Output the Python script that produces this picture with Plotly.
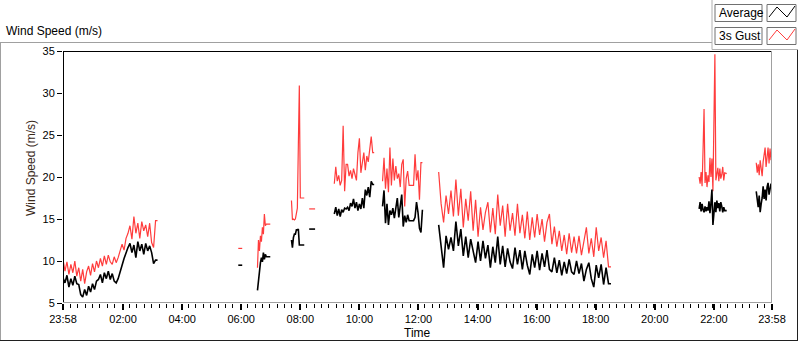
import plotly.graph_objects as go
import pandas as pd

# ---------------- data ----------------
seg1_start, seg1_step = "2015-01-01 23:58", 4
seg1_avg = [8.0, 7.4, 8.3, 6.9, 7.9, 7.1, 8.2, 7.3, 7.2,
            6.0, 5.7, 6.6, 5.9,
            7.0, 6.3, 7.3, 6.6, 7.6,
            7.8, 8.4, 7.4, 8.6, 7.9, 8.8, 7.8, 8.5,
            7.6, 7.4, 7.9, 8.6,
            9.5, 10.3, 11.0,
            11.6, 12.1, 11.0, 11.9, 10.4, 12.3, 11.2, 12.0, 10.8, 12.1, 11.2, 11.8,
            11.0, 9.7, 10.1,
            10.1]
seg1_gust = [10.2, 8.8, 9.9, 8.4, 9.6, 8.6, 10.0, 8.2, 9.2,
             7.6, 9.0, 7.3, 8.7,
             9.4, 8.3, 9.7, 8.7, 10.0,
             9.2, 10.3, 9.4, 10.6, 9.6, 10.7, 9.9, 9.6,
             10.5, 9.8, 10.4, 11.2,
             12.0, 11.3, 12.7,
             13.3, 14.2, 12.6, 15.3, 13.3, 14.5, 12.7, 14.7, 13.6, 14.3, 12.9, 14.5,
             12.2, 11.6, 14.8,
             14.8]

seg2_start, seg2_step = "2015-01-02 05:54", 8
seg2_avg = [9.5, 9.5]
seg2_gust = [11.5, 11.5]

seg3_start, seg3_step = "2015-01-02 06:33", 2
seg3_avg = [6.5, 7.8, 8.7, 9.8, 10.4, 9.9, 11.0, 10.2, 10.8, 10.5, 10.5, 10.5, 10.5, 10.5]
seg3_gust = [9.2, 12.5, 11.2, 13.0, 12.3, 14.0, 13.2, 15.6, 14.2, 14.4, 14.4, 14.4, 14.4, 14.4]

seg4_start, seg4_step = "2015-01-02 07:42", 2
seg4_avg = [12.5, 11.6, 12.8, 13.2, 13.2, 13.7, 13.7, 13.8, 11.9, 11.9, 11.9, 11.9, 11.9, 11.9]
seg4_gust = [17.2, 14.9, 15.0, 14.9, 15.0, 15.6, 16.3, 23.8, 30.9, 17.5, 17.5, 17.5, 17.5, 17.5]

seg5_start, seg5_step = "2015-01-02 08:18", 12
seg5_avg = [13.8, 13.8]
seg5_gust = [16.2, 16.2]

seg6_start, seg6_step = "2015-01-02 09:09", 3
seg6_avg = [15.6, 16.4, 15.4, 16.2, 15.3, 16.1, 15.8, 16.3, 16.2, 16.4, 16.0, 16.9, 16.5, 17.4,
            16.3, 17.0, 16.0, 16.8, 16.2, 17.5, 16.3, 18.5, 17.8, 18.8, 17.6, 19.5, 19.1, 19.1]
seg6_gust = [19.2, 21.2, 19.5, 20.2, 19.0, 19.6, 26.1, 18.3, 21.5, 21.5, 20.1, 20.8, 19.8, 21.0,
             20.3, 19.6, 22.9, 24.6, 20.5, 21.6, 22.9, 20.8, 22.5, 21.8, 23.8, 24.8, 22.9, 22.9]

seg7_start, seg7_step = "2015-01-02 10:47", 3
seg7_avg = [16.5, 18.4, 14.5, 16.8, 14.3, 16.0, 15.5, 16.3, 15.1, 16.2, 17.5, 15.2, 16.6, 17.9,
            14.1, 15.4, 14.6, 15.5, 14.8, 14.8, 14.8, 14.8, 15.2, 17.0, 15.8, 13.9, 13.4, 16.1]
seg7_gust = [19.5, 22.3, 18.6, 21.0, 18.2, 23.5, 19.0, 22.2, 19.6, 21.3, 19.8, 20.4, 18.8, 21.5,
             22.1, 16.5, 19.8, 20.7, 19.0, 19.0, 19.0, 19.0, 22.7, 19.6, 20.8, 17.3, 21.7, 21.7]

seg8_start, seg8_step = "2015-01-02 12:41", 5
seg8_avg = [14.3, 11.5, 9.2, 13.0, 11.4, 12.8, 11.2, 14.7, 11.8, 13.8,
            10.6, 12.9, 10.4, 12.6, 11.0, 9.8, 12.3, 10.0, 12.4, 10.3,
            11.9, 9.2, 11.7, 9.8, 12.9, 9.6, 11.8, 9.3, 11.5, 9.9,
            9.1, 11.6, 9.6, 11.3, 9.0, 11.2, 9.5, 8.4, 10.8, 9.2,
            11.2, 8.9, 10.9, 9.3, 11.3, 9.0, 8.7, 10.4, 8.6, 10.1,
            8.3, 9.9, 8.5, 10.2, 8.7, 8.4, 10.0, 8.5, 9.7, 7.6,
            9.0, 9.8, 7.9, 6.9, 9.5, 8.0, 9.6, 7.2, 9.2, 7.3,
            7.3]
seg8_gust = [20.6, 16.8, 14.6, 17.8, 15.6, 18.4, 15.3, 19.7, 15.4, 18.6,
             14.0, 17.4, 14.8, 18.3, 13.6, 17.3, 12.9, 16.4, 13.7, 15.8,
             17.0, 13.4, 16.3, 13.2, 17.9, 14.2, 16.6, 12.9, 16.8, 13.6,
             15.7, 13.0, 16.8, 13.3, 15.5, 12.7, 15.9, 12.5, 15.2, 12.8,
             15.6, 13.1, 15.0, 12.3, 14.6, 15.6, 12.0, 14.1, 11.7, 13.6,
             11.2, 13.1, 10.8, 13.3, 11.0, 12.9, 10.9, 13.0, 10.7, 12.5,
             14.0, 10.9, 12.7, 10.5, 14.0, 11.2, 12.8, 10.4, 12.4, 9.3,
             9.3]

seg9_start, seg9_step = "2015-01-02 21:30", 2
seg9_avg = [16.2, 17.0, 15.9, 16.8, 16.1, 15.8, 16.5, 15.9, 16.4, 16.0,
            17.1, 15.7, 16.9, 18.5, 14.3, 16.3, 17.0, 15.8, 17.2, 16.3,
            16.9, 15.9, 17.0, 16.5, 15.8, 16.4, 16.0, 16.0, 16.0]
seg9_gust = [20.0, 19.2, 20.6, 18.9, 23.3, 28.1, 19.3, 20.6, 18.8, 20.2,
             19.4, 22.3, 20.0, 22.2, 18.3, 27.9, 34.6, 19.6, 20.4, 21.1,
             19.5, 21.0, 19.8, 20.3, 21.2, 19.6, 20.5, 20.4, 20.4]

seg10_start, seg10_step = "2015-01-02 23:26", 2
seg10_avg = [18.3, 17.0, 16.4, 17.8, 15.8, 16.8, 17.5, 18.9, 17.4, 18.5,
             17.2, 18.8, 19.3, 17.9, 18.7, 19.2, 18.6]
seg10_gust = [21.7, 20.5, 21.5, 20.2, 22.0, 20.8, 20.1, 21.8, 22.6, 23.5,
              21.2, 22.1, 23.5, 21.6, 23.4, 22.0, 22.8]

x_range = ["2015-01-01 23:58", "2015-01-02 23:58"]
tick_vals = ["2015-01-01 23:58", "2015-01-02 02:00", "2015-01-02 04:00", "2015-01-02 06:00",
             "2015-01-02 08:00", "2015-01-02 10:00", "2015-01-02 12:00", "2015-01-02 14:00",
             "2015-01-02 16:00", "2015-01-02 18:00", "2015-01-02 20:00", "2015-01-02 22:00",
             "2015-01-02 23:58"]
tick_text = ["23:58", "02:00", "04:00", "06:00", "08:00", "10:00", "12:00", "14:00",
             "16:00", "18:00", "20:00", "22:00", "23:58"]

segments = [
    (seg1_start, seg1_step, seg1_avg, seg1_gust),
    (seg2_start, seg2_step, seg2_avg, seg2_gust),
    (seg3_start, seg3_step, seg3_avg, seg3_gust),
    (seg4_start, seg4_step, seg4_avg, seg4_gust),
    (seg5_start, seg5_step, seg5_avg, seg5_gust),
    (seg6_start, seg6_step, seg6_avg, seg6_gust),
    (seg7_start, seg7_step, seg7_avg, seg7_gust),
    (seg8_start, seg8_step, seg8_avg, seg8_gust),
    (seg9_start, seg9_step, seg9_avg, seg9_gust),
    (seg10_start, seg10_step, seg10_avg, seg10_gust),
]

xs, ya, yg = [], [], []
for start, step, avg, gust in segments:
    t = pd.date_range(start, periods=len(avg), freq=f"{step}min").strftime("%Y-%m-%d %H:%M:%S").tolist()
    xs += t + [t[-1]]
    ya += avg + [None]
    yg += gust + [None]

# ---------------- figure ----------------
W, H = 800, 342
L, R, T, B = 63, 28, 51, 39
PW, PH = W - L - R, H - T - B


def px(x):
    return (x - L) / PW


def py(y):
    return (H - B - y) / PH


FONT = "Liberation Sans, Arial, sans-serif"

fig = go.Figure()
fig.add_trace(go.Scatter(x=xs, y=yg, mode="lines", name="3s Gust",
                         line=dict(color="#ff3c3c", width=1.2, shape="linear"),
                         connectgaps=False, showlegend=False))
fig.add_trace(go.Scatter(x=xs, y=ya, mode="lines", name="Average",
                         line=dict(color="#000000", width=1.6, shape="linear"),
                         connectgaps=False, showlegend=False))

shapes = []


def line(x0, y0, x1, y1, color, width=1):
    shapes.append(dict(type="line", xref="paper", yref="paper",
                       x0=px(x0), y0=py(y0), x1=px(x1), y1=py(y1),
                       line=dict(color=color, width=width), layer="above"))


def rect(x0, y0, x1, y1, color):
    shapes.append(dict(type="rect", xref="paper", yref="paper",
                       x0=px(x0), y0=py(y0), x1=px(x1), y1=py(y1),
                       line=dict(color=color, width=1), fillcolor="white", layer="above"))


# outer frame
line(0, 42.5, 712, 42.5, "#a0a0a0")
line(0.5, 42, 0.5, 341, "#a0a0a0")
line(0, 340.5, 797.5, 340.5, "#202020")
line(797.5, 49, 797.5, 341, "#202020")
line(712, 0, 712, 49.5, "#b0b0b0")
line(712, 49.5, 798, 49.5, "#b0b0b0")
# plot border
line(63, 51.5, 772, 51.5, "#000000")
line(63.5, 51, 63.5, 303, "#000000")
line(771.5, 51, 771.5, 303, "#a0a0a0")
line(63, 302.5, 772, 302.5, "#a0a0a0")
# legend boxes
rect(715, 4.5, 762, 21.5, "#707070")
rect(767, 4.5, 796, 21.5, "#707070")
rect(715, 27.5, 762, 44.5, "#707070")
rect(767, 27.5, 796, 44.5, "#707070")


def zig(points, color):
    d = "M " + " L ".join(f"{px(a):.5f},{py(b):.5f}" for a, b in points)
    shapes.append(dict(type="path", xref="paper", yref="paper", path=d,
                       line=dict(color=color, width=1), layer="above"))


zig([(769, 17), (777, 7), (787, 17), (795, 6)], "#000000")
zig([(769, 40), (777, 30), (787, 40), (795, 29)], "#ff3c3c")

ann = []


def text(x, y, s, anchor="left", angle=0, size=12, color="#000000"):
    ann.append(dict(xref="paper", yref="paper", x=px(x), y=py(y), text=s,
                    showarrow=False, xanchor=anchor, yanchor="middle",
                    textangle=angle, font=dict(family=FONT, size=size, color=color)))


text(4, 31, "Wind Speed (m/s)")
text(717, 13, "Average")
text(717, 36, "3s Gust")
text(31, 168, "Wind Speed (m/s)", anchor="center", angle=-90, color="#3a2a1a")
text(417.5, 333, "Time", anchor="center")

fig.update_layout(
    width=W, height=H,
    margin=dict(l=L, r=R, t=T, b=B),
    paper_bgcolor="white", plot_bgcolor="white",
    showlegend=False,
    shapes=shapes, annotations=ann,
    font=dict(family=FONT, size=11, color="#000000"),
    xaxis=dict(type="date", range=x_range, tickmode="array", tickvals=tick_vals,
               ticktext=tick_text, ticks="outside", ticklen=6, tickwidth=2,
               tickcolor="#000000", showgrid=False, zeroline=False, showline=False,
               tickfont=dict(family=FONT, size=11, color="#000000"),
               minor=dict(tickmode="linear", tick0="2015-01-01 23:58",
                          dtick=15 * 60 * 1000, ticks="outside", ticklen=4,
                          tickwidth=1, tickcolor="#000000", showgrid=False)),
    yaxis=dict(range=[5, 35], tickmode="linear", tick0=5, dtick=5, ticks="outside",
               ticklen=5, tickwidth=1, tickcolor="#000000", showgrid=False,
               zeroline=False, showline=False,
               tickfont=dict(family=FONT, size=11, color="#000000")),
)

fig.write_html("out.html", config={"displayModeBar": False},
               post_script="document.body.style.margin='0';document.body.style.padding='0';")
